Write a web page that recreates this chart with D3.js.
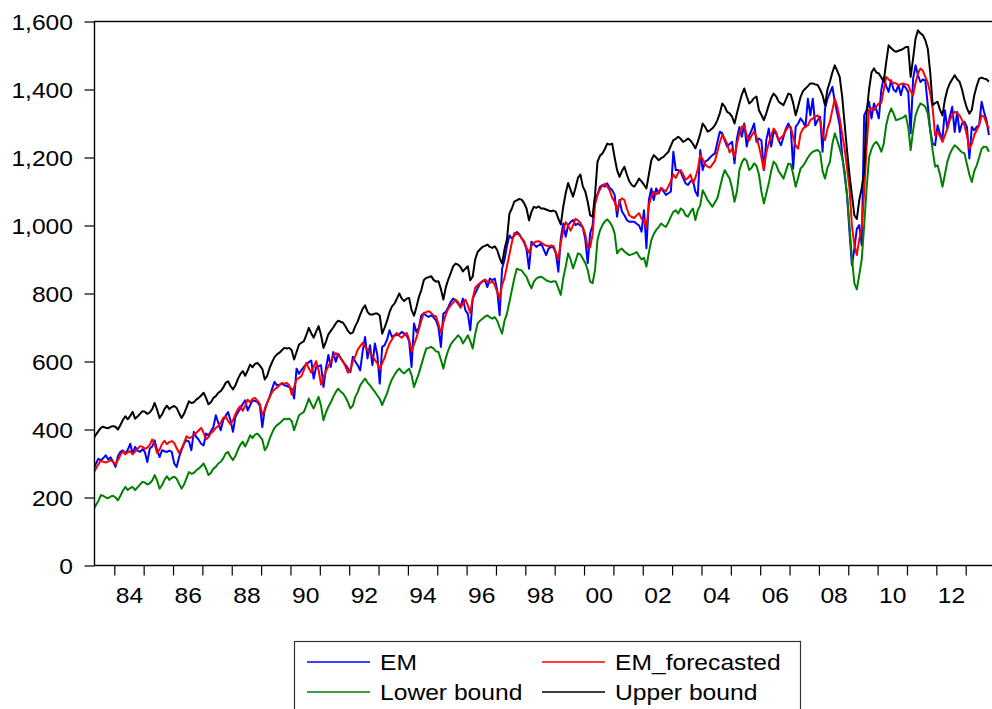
<!DOCTYPE html>
<html>
<head>
<meta charset="utf-8">
<script src="https://cdn.jsdelivr.net/npm/d3@7"></script>
<style>
  html, body { margin: 0; padding: 0; background: #fff; }
  svg { display: block; }
</style>
</head>
<body>
<svg id="chart" width="992" height="709"></svg>
<script>
// ---------------- DATA (monthly, 1983M04 .. 2013M10) ----------------
const startYear = 1983, startMonth = 4;

const em = [
  282,300,314,309,316,324,312,318,305,
  290,322,334,339,329,340,358,329,349,338,334,342,
  334,304,344,350,368,340,319,339,336,334,338,334,
  300,290,319,340,358,368,365,339,393,378,370,358,
  353,388,383,395,407,442,420,398,427,440,451,427,
  393,437,450,461,475,486,456,471,486,484,481,470,
  407,461,480,496,520,540,530,532,535,530,528,525,
  520,491,579,564,575,584,592,598,603,550,584,586,
  589,525,580,619,584,628,599,623,610,599,590,580,
  569,614,600,589,574,630,672,609,648,589,653,620,
  535,643,648,665,692,672,677,677,680,687,682,676,
  660,584,712,687,700,736,741,735,731,736,730,721,
  700,643,741,746,760,775,785,780,770,761,785,751,
  740,692,785,800,815,829,835,839,819,844,839,844,
  810,736,873,900,940,971,962,970,981,975,962,950,
  930,873,952,945,937,942,947,930,913,932,937,935,
  918,864,962,1006,967,1001,1010,1016,1001,1006,1000,995,
  960,889,977,1000,1085,1090,1114,1119,1114,1124,1110,1104,
  1090,1026,1075,1041,1030,1016,1011,1011,1011,1005,1000,982,
  1045,933,1075,1109,1075,1109,1094,1109,1100,1090,1095,1100,
  1217,1163,1163,1158,1140,1124,1119,1130,1134,1100,1087,1222,
  1163,1188,1192,1200,1207,1212,1245,1276,1271,1250,1232,1240,
  1246,1183,1256,1290,1261,1300,1232,1265,1280,1300,1246,1256,
  1250,1163,1251,1285,1232,1276,1271,1251,1236,1260,1285,1300,
  1285,1168,1290,1300,1315,1305,1290,1373,1324,1373,1295,1310,
  1320,1217,1344,1373,1390,1408,1364,1330,1295,1207,1150,1089,
  981,883,932,990,1001,942,1324,1340,1364,1315,1359,1340,
  1315,1398,1437,1410,1393,1427,1400,1393,1413,1383,1413,1405,
  1393,1271,1432,1471,1442,1422,1430,1427,1354,1280,1241,1236,
  1295,1270,1256,1339,1285,1320,1349,1275,1334,1275,1300,1305,
  1290,1197,1290,1280,1290,1295,1364,1334,1310,1266
];

const emForecasted = [
  272,285,298,308,305,303,306,310,305,
  297,310,325,336,327,333,336,327,335,343,351,349,
  343,347,355,371,355,331,341,357,367,357,363,366,
  360,345,331,343,361,380,375,377,385,390,397,405,
  390,371,377,390,395,405,410,420,434,439,425,415,
  427,445,460,469,455,470,488,480,490,493,485,475,
  444,455,478,495,510,518,523,530,537,535,537,530,
  503,525,547,552,557,575,596,580,567,585,601,575,
  532,555,572,585,601,615,625,617,611,600,585,567,
  575,601,615,635,645,655,643,635,625,616,605,595,
  577,595,611,635,653,665,677,684,675,670,677,684,
  665,630,650,670,695,720,743,745,748,743,735,733,
  710,684,715,738,755,765,773,782,775,758,770,782,
  765,743,785,817,825,831,837,841,835,831,836,825,
  805,787,825,846,880,915,950,978,975,973,963,954,
  935,920,940,949,953,954,950,944,941,939,941,940,
  920,901,950,984,1010,1000,985,1000,1020,1015,1008,995,
  974,935,935,975,1062,1090,1106,1117,1123,1115,1103,1082,
  1070,1045,1070,1080,1075,1050,1030,1025,1022,1030,1036,1020,
  1015,995,1060,1085,1099,1092,1100,1111,1105,1101,1115,1131,
  1150,1140,1155,1163,1150,1135,1140,1150,1124,1140,1165,1207,
  1195,1180,1173,1170,1180,1190,1217,1245,1266,1255,1240,1215,
  1225,1202,1240,1270,1290,1295,1265,1250,1265,1276,1260,1232,
  1200,1163,1215,1241,1265,1285,1275,1251,1258,1266,1280,1290,
  1290,1260,1235,1226,1270,1285,1290,1295,1310,1315,1320,1324,
  1310,1266,1251,1285,1305,1340,1373,1350,1315,1270,1226,1170,
  1109,1000,942,913,960,991,1099,1230,1340,1345,1339,1350,
  1359,1360,1400,1437,1430,1422,1420,1418,1413,1416,1418,1415,
  1413,1395,1383,1420,1447,1462,1455,1437,1420,1390,1344,1265,
  1275,1262,1246,1265,1285,1310,1325,1334,1330,1324,1310,1295,
  1265,1226,1240,1266,1280,1295,1324,1320,1300,1285
];

const lowerBound = [
  165,178,190,207,205,200,198,203,205,
  200,192,205,220,231,222,228,231,222,230,238,246,
  244,238,242,250,266,250,226,236,252,262,252,258,
  261,255,240,226,238,256,275,270,272,280,285,292,
  300,285,266,272,285,290,300,305,315,329,334,320,
  310,322,340,355,364,350,365,383,375,385,388,380,
  370,339,350,373,390,405,413,418,425,432,430,432,
  425,398,420,442,447,452,470,491,475,462,480,496,
  470,427,450,467,480,496,510,520,512,506,495,480,
  462,470,496,510,530,540,550,538,530,520,511,500,
  490,472,490,506,530,548,560,572,579,570,565,572,
  579,560,525,545,565,590,615,638,640,643,638,630,
  628,605,579,610,633,650,660,668,677,670,653,665,
  677,660,638,680,712,720,726,732,736,730,726,731,
  720,700,682,720,741,775,810,845,873,870,868,858,
  849,830,815,835,844,848,849,845,839,836,834,836,
  835,815,796,845,879,918,900,874,895,918,915,903,
  890,869,835,830,870,957,985,1001,1012,1018,1010,998,
  977,918,928,932,923,918,913,915,918,922,910,900,
  905,879,920,957,975,987,995,1006,1000,996,1010,1026,
  1040,1045,1035,1050,1045,1030,1026,1040,1050,1016,1045,1060,
  1104,1090,1075,1065,1055,1068,1080,1110,1140,1163,1150,1138,
  1110,1070,1100,1163,1185,1197,1190,1163,1170,1183,1175,1150,
  1100,1065,1095,1124,1160,1188,1180,1160,1150,1138,1160,1182,
  1180,1150,1114,1140,1168,1175,1187,1200,1210,1217,1220,1222,
  1215,1160,1138,1170,1187,1240,1271,1250,1226,1200,1160,1090,
  1000,905,830,812,855,900,1000,1109,1200,1225,1240,1246,
  1235,1217,1240,1295,1325,1344,1330,1310,1312,1315,1318,1324,
  1290,1222,1280,1324,1345,1359,1355,1349,1330,1280,1220,1173,
  1177,1150,1114,1150,1187,1210,1225,1236,1230,1222,1215,1212,
  1180,1150,1128,1160,1177,1200,1226,1232,1231,1217
];

const upperBound = [
  373,385,395,405,408,405,404,408,410,
  408,400,413,428,439,430,440,452,432,438,446,454,
  452,446,450,460,478,458,434,444,460,470,460,466,
  469,463,448,434,446,464,483,478,480,488,493,500,
  508,493,474,480,493,498,508,513,523,537,542,528,
  518,530,548,563,572,558,573,591,583,593,596,588,
  578,547,558,581,598,613,621,626,633,640,638,640,
  633,606,628,650,655,660,678,699,683,670,688,704,
  678,640,658,680,690,700,712,720,717,714,703,690,
  682,685,704,718,738,755,765,746,738,738,741,741,
  735,682,700,720,745,762,770,785,800,785,778,785,
  787,751,735,760,790,810,839,846,848,851,840,835,
  836,813,782,818,841,860,880,888,885,878,865,873,
  880,839,850,900,922,930,937,940,944,937,934,939,
  928,905,888,930,960,1035,1050,1070,1074,1078,1076,1066,
  1050,1015,1040,1055,1052,1056,1050,1050,1047,1044,1042,1044,
  1040,1020,1003,1055,1095,1125,1105,1085,1110,1140,1150,1115,
  1100,1070,1030,1026,1090,1188,1205,1212,1225,1241,1238,1241,
  1200,1163,1143,1160,1173,1150,1130,1119,1114,1125,1138,1130,
  1120,1109,1150,1192,1207,1200,1192,1198,1202,1210,1217,1235,
  1251,1255,1261,1255,1246,1250,1256,1250,1240,1227,1246,1270,
  1300,1290,1276,1280,1286,1295,1310,1330,1359,1350,1334,1330,
  1320,1300,1330,1359,1385,1403,1380,1359,1365,1375,1379,1339,
  1325,1310,1330,1354,1375,1388,1380,1365,1359,1354,1370,1388,
  1385,1360,1324,1350,1378,1395,1403,1410,1418,1418,1415,1413,
  1400,1383,1354,1400,1423,1450,1471,1455,1437,1380,1300,1220,
  1150,1090,1030,1019,1075,1110,1160,1330,1400,1450,1462,1450,
  1447,1435,1423,1480,1530,1522,1515,1511,1514,1516,1520,1525,
  1525,1437,1491,1550,1574,1565,1560,1545,1520,1450,1354,1360,
  1364,1340,1324,1370,1400,1418,1430,1442,1430,1423,1400,1369,
  1345,1329,1340,1383,1410,1432,1435,1432,1430,1423
];

const yTicks = [0, 200, 400, 600, 800, 1000, 1200, 1400, 1600];
const xTickYears = [1984,1985,1986,1987,1988,1989,1990,1991,1992,1993,1994,1995,1996,1997,1998,
                    1999,2000,2001,2002,2003,2004,2005,2006,2007,2008,2009,2010,2011,2012,2013];
const xLabelYears = [1984,1986,1988,1990,1992,1994,1996,1998,2000,2002,2004,2006,2008,2010,2012];
const xLabels = ["84","86","88","90","92","94","96","98","00","02","04","06","08","10","12"];
const seriesNames = ["EM", "EM_forecasted", "Lower bound", "Upper bound"];
const seriesColors = ["#0000ff", "#ff0000", "#008000", "#000000"];

// ---------------- CHART ----------------
const FONT = "'Liberation Sans', Arial, Helvetica, sans-serif";
const FS = 22, SX = 1.12;           // font size and horizontal stretch of glyphs
const plot = { left: 94.5, right: 994, top: 21.5, bottom: 565.5 };

const x = d3.scaleLinear().domain([1984, 2013]).range([114.3, 965.7]);
const y = d3.scaleLinear().domain([0, 1600]).range([plot.bottom, plot.top]);
const tOf = i => startYear + (startMonth - 1 + i + 0.5) / 12;

const svg = d3.select("#chart");
svg.append("rect").attr("width", 992).attr("height", 709).attr("fill", "#fff");

svg.append("defs").append("clipPath").attr("id", "clip")
  .append("rect")
  .attr("x", plot.left).attr("y", plot.top)
  .attr("width", plot.right - plot.left).attr("height", plot.bottom - plot.top);

// series
const seriesData = [em, emForecasted, lowerBound, upperBound];
const line = d3.line().x((d, i) => x(tOf(i))).y(d => y(d));
const gLines = svg.append("g").attr("clip-path", "url(#clip)");
seriesData.forEach((vals, k) => {
  gLines.append("path")
    .datum(vals)
    .attr("fill", "none")
    .attr("stroke", seriesColors[k])
    .attr("stroke-width", 2)
    .attr("stroke-linejoin", "round")
    .attr("d", line);
});

// frame
svg.append("rect")
  .attr("x", plot.left).attr("y", plot.top)
  .attr("width", plot.right - plot.left).attr("height", plot.bottom - plot.top)
  .attr("fill", "none").attr("stroke", "#000").attr("stroke-width", 1.4);

// y axis
const yAxis = svg.append("g")
  .attr("transform", `translate(${plot.left},0)`)
  .call(d3.axisLeft(y).tickValues(yTicks).tickSize(10).tickPadding(0).tickFormat(d3.format(",")));
yAxis.select(".domain").remove();
yAxis.attr("font-size", null).attr("font-family", null);
yAxis.selectAll(".tick line").attr("stroke", "#000").attr("stroke-width", 1.2);
yAxis.selectAll(".tick text")
  .attr("x", -21.5 / SX)
  .attr("dy", null).attr("y", 8)
  .attr("transform", `scale(${SX},1)`)
  .style("font-family", FONT).style("font-size", FS + "px").attr("fill", "#000");

// x axis ticks (year boundaries)
const xAxis = svg.append("g")
  .attr("transform", `translate(0,${plot.bottom})`)
  .call(d3.axisBottom(x).tickValues(xTickYears).tickSize(10).tickFormat(""));
xAxis.select(".domain").remove();
xAxis.selectAll(".tick line").attr("stroke", "#000").attr("stroke-width", 1.2);

// x axis labels (centered within each even year)
const xLab = svg.append("g")
  .attr("transform", `translate(0,${plot.bottom})`)
  .call(d3.axisBottom(x).tickValues(xLabelYears.map(d => d + 0.5)).tickSize(0)
        .tickFormat((d, i) => xLabels[i]));
xLab.select(".domain").remove();
xLab.attr("font-size", null).attr("font-family", null);
xLab.selectAll(".tick text")
  .attr("dy", null).attr("y", 37.5)
  .attr("transform", `scale(${SX},1)`)
  .style("font-family", FONT).style("font-size", FS + "px").attr("fill", "#000");

// legend
const legend = svg.append("g");
legend.append("rect")
  .attr("x", 294.5).attr("y", 641.5).attr("width", 506).attr("height", 90)
  .attr("fill", "#fff").attr("stroke", "#333").attr("stroke-width", 1.2);
const colX = [307, 542], rowY = [662, 692];
seriesNames.forEach((name, k) => {
  const cx = colX[k % 2], ry = rowY[Math.floor(k / 2)];
  legend.append("line")
    .attr("x1", cx).attr("x2", cx + 63).attr("y1", ry).attr("y2", ry)
    .attr("stroke", seriesColors[k]).attr("stroke-width", 1.6);
  legend.append("g")
    .attr("transform", `translate(${cx + 73},${ry + 8}) scale(${SX},1)`)
    .append("text")
    .style("font-family", FONT).style("font-size", FS + "px").attr("fill", "#000")
    .text(name);
});
</script>
</body>
</html>
